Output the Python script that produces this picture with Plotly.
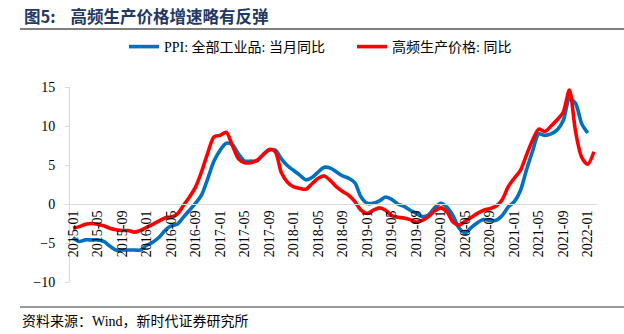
import pandas as pd
import plotly.graph_objects as go

# Monthly categories, 2015-01 .. 2022-02
months = [d.strftime("%Y-%m") for d in pd.date_range("2015-01-01", "2022-02-01", freq="MS")]

# PPI: all industrial products, y/y (%)
ppi_yoy = [
    -4.3, -4.8, -4.6, -4.6, -4.6, -4.8, -5.4, -5.9, -5.9, -5.9, -5.9, -5.9,
    -5.3, -4.9, -4.3, -3.4, -2.8, -2.6, -1.7, -0.8, 0.1, 1.2, 3.3, 5.5,
    6.9, 7.8, 7.6, 6.4, 5.5, 5.5, 5.5, 6.3, 6.9, 6.9, 5.8, 4.9,
    4.3, 3.7, 3.1, 3.4, 4.1, 4.7, 4.6, 4.1, 3.6, 3.3, 2.7, 0.9,
    0.1, 0.1, 0.4, 0.9, 0.6, 0.0, -0.3, -0.8, -1.2, -1.6, -1.4, -0.5,
    0.1, -0.4, -1.5, -3.1, -3.7, -3.0, -2.4, -2.0, -2.1, -2.1, -1.5, -0.4,
    0.3, 1.7, 4.4, 6.8, 9.0, 8.8, 9.0, 9.5, 10.7, 13.5, 12.9, 10.3,
    9.1,
]

# High-frequency producer price index, y/y (%)
hf_price_yoy = [
    -3.1, -2.9, -2.6, -2.5, -2.6, -2.8, -3.1, -3.3, -3.4, -3.4, -3.6, -3.4,
    -3.0, -2.6, -2.2, -1.8, -1.7, -1.3, -0.2, 0.9, 2.2, 4.2, 6.6, 8.6,
    8.8, 9.2, 7.5, 5.8, 5.3, 5.3, 5.6, 6.3, 7.0, 6.7, 4.0, 2.8,
    2.2, 2.0, 1.9, 2.6, 3.3, 3.6, 3.0, 2.2, 1.6, 1.1, 0.3, -0.8,
    -1.2, -0.8, -0.5, -0.8, -1.5, -1.7, -1.8, -2.0, -2.3, -2.1, -1.6, -0.9,
    -0.5, -1.0, -2.3, -2.7, -2.2, -1.7, -1.2, -0.8, -0.6, -0.3, 0.5, 2.2,
    3.3, 4.3, 6.3, 8.2, 9.6, 9.3, 10.0, 10.8, 11.8, 14.6, 9.3, 6.0,
    5.1, 6.7,
]

tick_step = 4
y_ticks = [-10, -5, 0, 5, 10, 15]

W, H = 624, 334
plot_left, plot_right, plot_top, plot_bottom = 70, 597, 87, 282
y_min, y_max = -10, 15

serif = "Liberation Serif, Noto Sans CJK SC, serif"
cjk = "Noto Sans CJK SC, sans-serif"

idx = list(range(len(months)))
tickvals = idx[::tick_step]
ticktext = months[::tick_step]

fig = go.Figure()
fig.add_trace(go.Scatter(
    x=idx[:len(ppi_yoy)], y=ppi_yoy, mode="lines",
    name="PPI: 全部工业品: 当月同比", legend="legend",
    line=dict(color="#0070C0", width=3.6, shape="spline", smoothing=0.8),
))
fig.add_trace(go.Scatter(
    x=idx[:len(hf_price_yoy)], y=hf_price_yoy, mode="lines",
    name="高频生产价格: 同比", legend="legend2",
    line=dict(color="#FF0000", width=3.6, shape="spline", smoothing=0.8),
))

# paper y of the zero line, where the category axis sits
y_dom = [1 - plot_bottom / H, 1 - plot_top / H]
zero_paper = y_dom[0] + (0 - y_min) / (y_max - y_min) * (y_dom[1] - y_dom[0])

legend_style = dict(
    orientation="h", yanchor="middle", y=1 - 47 / H, xanchor="left",
    font=dict(family=serif, size=14, color="#000000"),
    itemwidth=30, bgcolor="rgba(0,0,0,0)", borderwidth=0,
)

fig.update_layout(
    width=W, height=H,
    margin=dict(l=0, r=0, t=0, b=0, autoexpand=False),
    paper_bgcolor="white", plot_bgcolor="white",
    showlegend=True,
    legend=dict(legend_style, x=124 / W),
    legend2=dict(legend_style, x=352 / W),
    xaxis=dict(
        domain=[plot_left / W, plot_right / W],
        range=[-0.5, len(months) - 0.5],
        anchor="free", position=zero_paper, automargin=False,
        showgrid=False, zeroline=False,
        showline=True, linecolor="#D9D9D9", linewidth=1,
        tickmode="array", tickvals=tickvals, ticktext=ticktext,
        tickangle=-90, ticks="",
        tickfont=dict(family=serif, size=14, color="#000000"),
    ),
    yaxis=dict(
        domain=y_dom,
        range=[y_min, y_max], automargin=False,
        tickmode="array", tickvals=y_ticks,
        showgrid=False, zeroline=False,
        showline=True, linecolor="#D9D9D9", linewidth=1,
        ticks="outside", ticklen=4, tickcolor="#D9D9D9",
        ticklabelstandoff=7,
        tickfont=dict(family=serif, size=14, color="#000000"),
    ),
)

# title, rules and source note
fig.add_annotation(
    xref="paper", yref="paper", x=22 / W, y=1 - 16 / H, xanchor="left", yanchor="middle",
    text="<b>图5:    高频生产价格增速略有反弹</b>", showarrow=False,
    font=dict(family=cjk, size=16.5, color="#1F3864"),
)
fig.add_shape(type="line", xref="paper", yref="paper",
              x0=20 / W, x1=1, y0=1 - 29 / H, y1=1 - 29 / H,
              line=dict(color="#000000", width=1))
fig.add_shape(type="line", xref="paper", yref="paper",
              x0=20 / W, x1=1, y0=1 - 307 / H, y1=1 - 307 / H,
              line=dict(color="#999999", width=2))
fig.add_annotation(
    xref="paper", yref="paper", x=20 / W, y=1 - 321 / H, xanchor="left", yanchor="middle",
    text="资料来源：Wind，新时代证券研究所", showarrow=False,
    font=dict(family=serif, size=14, color="#000000"),
)

fig.write_html("out.html")
